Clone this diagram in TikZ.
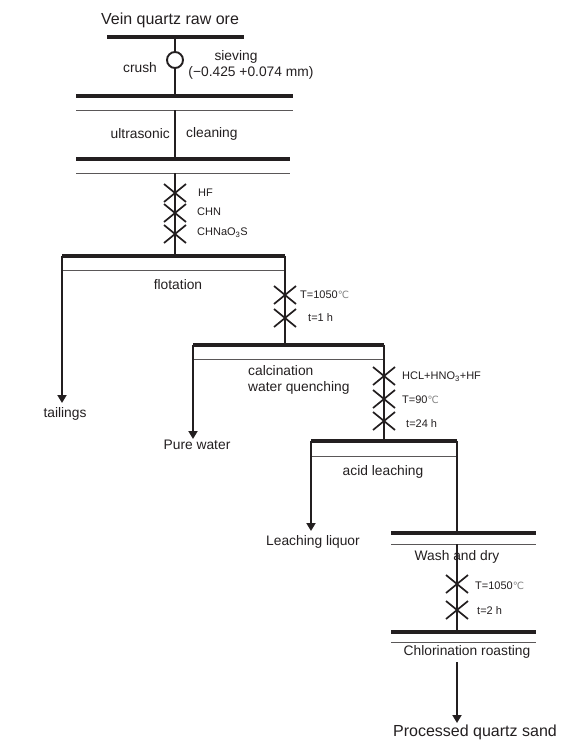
\documentclass[tikz,border=0pt]{standalone}
\usepackage{fontspec}
\setmainfont{Liberation Sans}
\newfontfamily\degfont{DejaVu Sans}
\usepackage{xcolor}
\usetikzlibrary{arrows.meta}
\definecolor{flowInk}{RGB}{35,31,32}
\definecolor{flowGray}{RGB}{130,130,130}
\newcommand{\degC}{{\degfont\color{flowGray}\fontsize{10}{12}\selectfont ℃}}

\begin{document}
\begin{tikzpicture}[x=1pt, y=-1pt, >={Triangle[length=8pt,width=9pt]}]
\tikzstyle{thickbar}=[draw=flowInk, line width=3.2pt]
\tikzstyle{thinbar}=[draw=flowInk!75, line width=0.9pt]
\tikzstyle{flow}=[draw=flowInk, line width=1.9pt]
\tikzstyle{big}=[font=\fontsize{16}{19}\selectfont, text=flowInk, inner sep=0pt]
\tikzstyle{lbl}=[font=\fontsize{13.8}{16}\selectfont, text=flowInk, inner sep=0pt]
\tikzstyle{cond}=[font=\fontsize{11}{13}\selectfont, text=flowInk, inner sep=0pt, anchor=west]
\useasboundingbox (0,0) rectangle (586,744);
\draw[thickbar] (107,37) -- (244,37);
\foreach \n/\xa/\xb/\yt/\yb in {sieve/76/293/96/110, clean/76/290/159/173, flot/62/285/256/270, calc/193/384/345/359, acid/311/457/441/456, wash/391/536/533/544, chlor/391/536/632/642}{
  \draw[thickbar] (\xa,\yt) -- (\xb,\yt);
  \draw[thinbar] (\xa,\yb) -- (\xb,\yb);
}
\coordinate (ore) at (175,37);
\node[circle, draw=flowInk, line width=1.9pt, minimum size=16pt, inner sep=0pt] (screen) at (175,60) {};
\coordinate (sieveT) at (175,96);
\coordinate (sieveB) at (175,110);
\coordinate (cleanT) at (175,159);
\coordinate (cleanB) at (175,173);
\coordinate (flotM) at (175,256);
\coordinate (flotL) at (62,256);
\coordinate (flotR) at (285,256);
\coordinate (tail) at (62,403);
\coordinate (calcM) at (285,345);
\coordinate (calcL) at (193,345);
\coordinate (calcR) at (384,345);
\coordinate (water) at (193,439);
\coordinate (acidM) at (384,441);
\coordinate (acidL) at (311,441);
\coordinate (acidR) at (457,441);
\coordinate (liquor) at (311,531);
\coordinate (washT) at (457,533);
\coordinate (washB) at (457,544);
\coordinate (chlorT) at (457,632);
\coordinate (chlorB) at (457,662);
\coordinate (sand) at (457,723);
\draw[flow] (ore) -- (screen);
\draw[flow] (screen) -- (sieveT);
\draw[flow] (sieveB) -- (cleanT);
\draw[flow] (cleanB) -- (flotM);
\draw[flow, ->] (flotL) -- (tail);
\draw[flow] (flotR) -- (calcM);
\draw[flow, ->] (calcL) -- (water);
\draw[flow] (calcR) -- (acidM);
\draw[flow, ->] (acidL) -- (liquor);
\draw[flow] (acidR) -- (washT);
\draw[flow] (washB) -- (chlorT);
\draw[flow, ->] (chlorB) -- (sand);
\foreach \x/\y in {175/193, 175/213, 175/234, 285/295, 285/318, 384/376, 384/399, 384/421, 457/584, 457/610}{\draw[flow, line width=1.7pt] (\x-11,\y-9) -- (\x+11,\y+9) (\x-11,\y+9) -- (\x+11,\y-9);}
\node[big] (title) at (170,20) {Vein quartz raw ore};
\node[lbl] (crush) at (140,68) {crush};
\node[lbl] (sieving) at (236,57) {sieving};
\node[lbl] (mesh) at (251,73) {(−0.425 +0.074 mm)};
\node[lbl, anchor=east] (ultra) at (170,134) {ultrasonic};
\node[lbl, anchor=west] (cleaning) at (186,134) {cleaning};
\node[cond] (hf) at (198,193) {HF};
\node[cond] (chn) at (197,212) {CHN};
\node[cond] (sulf) at (197,233) {CHNaO\textsubscript{3}S};
\node[lbl] (flotation) at (178,285) {flotation};
\node[cond] (temp1) at (300,295) {T=1050\degC};
\node[cond] (hour1) at (308,318) {t=1 h};
\node[lbl] (tailings) at (65,414) {tailings};
\node[lbl, anchor=west] (calc1) at (248,371) {calcination};
\node[lbl, anchor=west] (calc2) at (248,388) {water quenching};
\node[cond] (acids) at (402,377) {HCL+HNO\textsubscript{3}+HF};
\node[cond] (temp2) at (402,400) {T=90\degC};
\node[cond] (hour2) at (406,424) {t=24 h};
\node[lbl] (purewater) at (197,445) {Pure water};
\node[lbl] (acidlbl) at (383,472) {acid leaching};
\node[lbl] (liquorlbl) at (313,542) {Leaching liquor};
\node[lbl] (washlbl) at (457,557) {Wash and dry};
\node[cond] (temp3) at (475,586) {T=1050\degC};
\node[cond] (hour3) at (477,611) {t=2 h};
\node[lbl] (chlorlbl) at (467,652) {Chlorination roasting};
\node[big] (sandlbl) at (475,732) {Processed quartz sand};
\end{tikzpicture}
\end{document}
